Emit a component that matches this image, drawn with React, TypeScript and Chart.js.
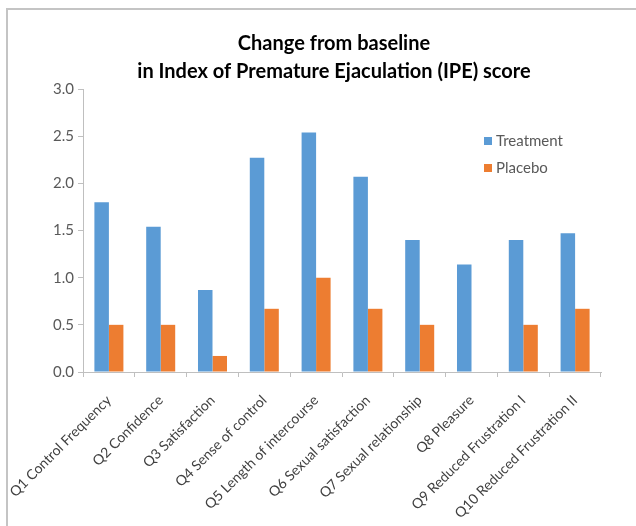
import React, { useEffect, useRef } from "react";
import { Chart, registerables } from "chart.js";

Chart.register(...registerables);

const categories = [
  "Q1 Control Frequency",
  "Q2 Confidence",
  "Q3 Satisfaction",
  "Q4 Sense of control",
  "Q5 Length of intercourse",
  "Q6 Sexual satisfaction",
  "Q7 Sexual relationship",
  "Q8 Pleasure",
  "Q9 Reduced Frustration I",
  "Q10 Reduced Frustration II",
];
const treatment = [1.8, 1.54, 0.87, 2.27, 2.54, 2.07, 1.4, 1.14, 1.4, 1.47];
const placebo = [0.5, 0.5, 0.17, 0.67, 1.0, 0.67, 0.5, 0, 0.5, 0.67];
const seriesNames = ["Treatment", "Placebo"];
const titleLines = ["Change from baseline", "in Index of Premature Ejaculation (IPE) score"];
const yMin = 0;
const yMax = 3;
const yStep = 0.5;

const FONT = "Lato, 'Liberation Sans', sans-serif";
const BLUE = "#5B9BD5";
const ORANGE = "#ED7D31";
const AXIS = "#BFBFBF";
const TICK_TEXT = "#595959";
const XLABEL_TEXT = "#404040";

const titlePlugin = {
  id: "customTitle",
  afterDraw(chart: any) {
    const { ctx, chartArea } = chart;
    const cx = (chartArea.left + chartArea.right) / 2 - 8;
    ctx.save();
    ctx.font = `bold 20px ${FONT}`;
    ctx.fillStyle = "#000000";
    ctx.textAlign = "center";
    ctx.textBaseline = "middle";
    titleLines.forEach((line, i) => {
      ctx.fillText(line, cx, 44 + i * 28);
    });
    ctx.restore();
  },
};

const legendPlugin = {
  id: "insideLegend",
  afterDraw(chart: any) {
    const { ctx, chartArea } = chart;
    const x = chartArea.right - 117;
    ctx.save();
    ctx.font = `15px ${FONT}`;
    ctx.textBaseline = "middle";
    ctx.textAlign = "left";
    chart.data.datasets.forEach((ds: any, i: number) => {
      const y = chartArea.top + 52 + i * 27;
      ctx.fillStyle = ds.backgroundColor;
      ctx.fillRect(x, y - 4, 8, 8);
      ctx.fillStyle = TICK_TEXT;
      ctx.fillText(ds.label, x + 12, y);
    });
    ctx.restore();
  },
};

export default function App() {
  const canvasRef = useRef<HTMLCanvasElement | null>(null);

  useEffect(() => {
    if (!canvasRef.current) return;
    const chart = new Chart(canvasRef.current, {
      type: "bar",
      data: {
        labels: categories,
        datasets: [
          {
            label: seriesNames[0],
            data: treatment,
            backgroundColor: BLUE,
            categoryPercentage: 0.56,
            barPercentage: 1.0,
          },
          {
            label: seriesNames[1],
            data: placebo,
            backgroundColor: ORANGE,
            categoryPercentage: 0.56,
            barPercentage: 1.0,
          },
        ],
      },
      options: {
        responsive: false,
        animation: false,
        layout: { padding: { top: 89, right: 35, left: 0, bottom: 0 } },
        plugins: {
          legend: { display: false },
          title: { display: false },
          tooltip: { enabled: false },
        },
        scales: {
          x: {
            grid: {
              display: true,
              drawOnChartArea: false,
              drawTicks: true,
              tickLength: 5,
              color: AXIS,
              offset: true,
            },
            border: { display: true, color: AXIS, width: 1 },
            ticks: {
              minRotation: 45,
              maxRotation: 45,
              autoSkip: false,
              padding: 15,
              color: XLABEL_TEXT,
              font: { family: FONT, size: 14 },
            },
            afterFit(scale: any) {
              scale.height = 526 - 89 - 283;
              scale.paddingLeft = 0;
              scale.paddingRight = 0;
            },
          },
          y: {
            min: yMin,
            max: yMax,
            ticks: {
              stepSize: yStep,
              padding: 4,
              color: TICK_TEXT,
              font: { family: FONT, size: 15 },
              callback: (v: any) => Number(v).toFixed(1),
            },
            grid: {
              display: true,
              drawOnChartArea: false,
              drawTicks: true,
              tickLength: 5,
              color: AXIS,
            },
            border: { display: true, color: AXIS, width: 1 },
            afterFit(scale: any) {
              scale.width = 83;
            },
          },
        },
      },
      plugins: [titlePlugin, legendPlugin],
    });
    return () => chart.destroy();
  }, []);

  return (
    <div
      style={{
        position: "fixed",
        left: 0,
        top: 0,
        width: 636,
        height: 526,
        overflow: "hidden",
        background: "#ffffff",
      }}
    >
      <div
        style={{
          position: "absolute",
          left: 6,
          top: 8,
          width: 700,
          height: 600,
          border: "2px solid #C4C4C4",
        }}
      />
      <canvas
        ref={canvasRef}
        width={636}
        height={526}
        style={{ position: "absolute", left: 0, top: 0, width: 636, height: 526 }}
      />
    </div>
  );
}
